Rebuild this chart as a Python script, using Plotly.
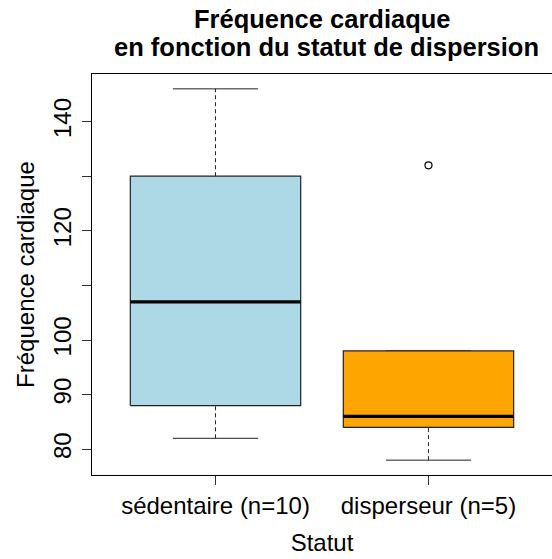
import plotly.graph_objects as go

# Summary statistics of heart rate per dispersal status (Tukey boxplot)
groups = ["sédentaire (n=10)", "disperseur (n=5)"]
whisker_low = [82, 78]
q1 = [88, 84]
median = [107, 86]
q3 = [130, 98]
whisker_high = [146, 98]
outliers = [[], [132]]
fill_colors = ["#ADD8E6", "#FFA500"]

y_ticks = [80, 90, 100, 110, 120, 130, 140]
y_tick_labels = ["80", "90", "100", "", "120", "", "140"]

FONT = "Liberation Sans, Arial, sans-serif"
half_box = 0.4
half_cap = 0.2

fig = go.Figure()
for i, name in enumerate(groups):
    pos = i + 1
    # whiskers (dashed)
    fig.add_trace(go.Scatter(
        x=[pos, pos, None, pos, pos],
        y=[q3[i], whisker_high[i], None, whisker_low[i], q1[i]],
        mode="lines", line=dict(color="#222", width=1, dash="4px,3px"),
        hoverinfo="skip", showlegend=False))
    # staples
    fig.add_trace(go.Scatter(
        x=[pos - half_cap, pos + half_cap, None, pos - half_cap, pos + half_cap],
        y=[whisker_high[i], whisker_high[i], None, whisker_low[i], whisker_low[i]],
        mode="lines", line=dict(color="#222", width=1),
        hoverinfo="skip", showlegend=False))
    # box
    fig.add_trace(go.Scatter(
        x=[pos - half_box, pos + half_box, pos + half_box, pos - half_box, pos - half_box],
        y=[q1[i], q1[i], q3[i], q3[i], q1[i]],
        mode="lines", fill="toself", fillcolor=fill_colors[i],
        line=dict(color="#222", width=1.2),
        name=name, showlegend=False))
    # median
    fig.add_trace(go.Scatter(
        x=[pos - half_box, pos + half_box], y=[median[i], median[i]],
        mode="lines", line=dict(color="black", width=3.2),
        hoverinfo="skip", showlegend=False))
    # outliers
    if outliers[i]:
        fig.add_trace(go.Scatter(
            x=[pos] * len(outliers[i]), y=outliers[i], mode="markers",
            marker=dict(symbol="circle-open", size=7, color="black",
                        line=dict(width=1.2)),
            showlegend=False))

# two-line bold title
fig.add_annotation(text="<b>Fréquence cardiaque</b>", xref="paper", yref="paper",
                   x=0.5, y=1, yshift=55, yanchor="middle", showarrow=False,
                   font=dict(family=FONT, size=25.5, color="black"))
fig.add_annotation(text="<b>en fonction du statut de dispersion</b>", xref="paper",
                   yref="paper", x=0.5, xshift=4, y=1, yshift=27, yanchor="middle",
                   showarrow=False,
                   font=dict(family=FONT, size=25.5, color="black"))

fig.update_layout(
    width=552, height=559,
    margin=dict(l=92, r=0, t=74, b=84),
    paper_bgcolor="white", plot_bgcolor="white",
    font=dict(family=FONT, size=24, color="black"),
    xaxis=dict(
        range=[0.42, 2.58], tickvals=[1, 2], ticktext=groups,
        ticks="outside", ticklen=9, tickcolor="#333",
        showline=True, mirror=True, linecolor="black", linewidth=1,
        showgrid=False, zeroline=False,
        title=dict(text="Statut", standoff=16, font=dict(size=24)),
        tickfont=dict(size=24)),
    yaxis=dict(
        range=[75.28, 148.72], tickvals=y_ticks, ticktext=y_tick_labels,
        tickangle=-90, ticks="outside", ticklen=9, tickcolor="#333",
        ticklabelstandoff=1,
        showline=True, mirror=True, linecolor="black", linewidth=1,
        showgrid=False, zeroline=False,
        title=dict(text="Fréquence cardiaque", standoff=8, font=dict(size=24)),
        tickfont=dict(size=24)),
)

fig.write_html("out.html")
